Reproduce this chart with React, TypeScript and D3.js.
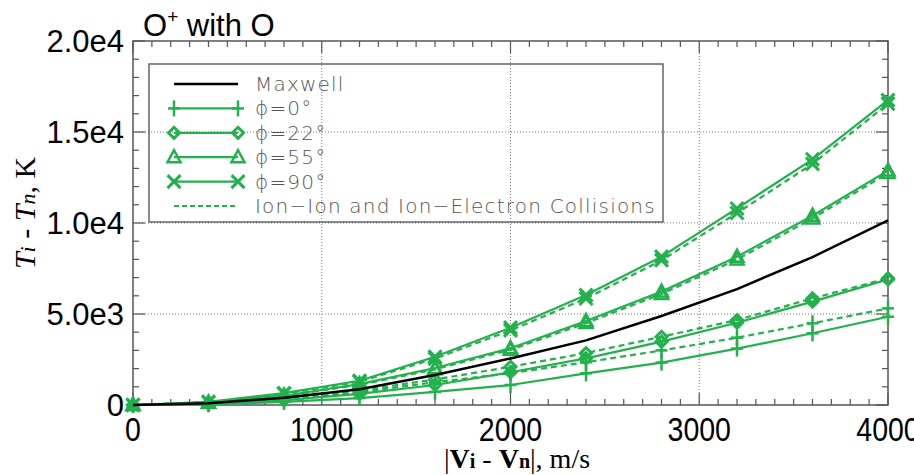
import React from "react";
import * as d3 from "d3";

const speeds = [0, 400, 800, 1200, 1600, 2000, 2400, 2800, 3200, 3600, 4000];
const maxwell = [0, 100, 400, 870, 1650, 2560, 3550, 4890, 6370, 8130, 10150];
const phi0 = [0, 40, 170, 380, 720, 1100, 1740, 2330, 3100, 3940, 4850];
const phi0Coll = [0, 80, 300, 700, 1250, 1750, 2350, 3000, 3700, 4490, 5310];
const phi22 = [0, 70, 270, 610, 1100, 1800, 2560, 3480, 4520, 5680, 6900];
const phi22Coll = [0, 90, 360, 800, 1400, 2100, 2850, 3750, 4670, 5860, 6960];
const phi55 = [0, 130, 510, 1150, 2030, 3120, 4620, 6230, 8150, 10400, 12880];
const phi55Coll = [0, 125, 490, 1110, 1960, 3030, 4500, 6100, 8000, 10250, 12750];
const phi90 = [0, 170, 650, 1330, 2650, 4250, 6040, 8150, 10800, 13500, 16750];
const phi90Coll = [0, 160, 620, 1280, 2550, 4100, 5850, 7950, 10550, 13250, 16550];

const xTicks = [0, 1000, 2000, 3000, 4000];
const yTicks = [0, 5000, 10000, 15000, 20000];
const yTickLabels = ["0", "5.0e3", "1.0e4", "1.5e4", "2.0e4"];
const legendLabels = ["Maxwell", "\u03D5=0\u00B0", "\u03D5=22\u00B0", "\u03D5=55\u00B0", "\u03D5=90\u00B0", "Ion\u2212Ion and Ion\u2212Electron Collisions"];

const GREEN = "#22b14c";
const AXIS = "#555";

type Sym = "plus" | "diamond" | "triangle" | "x";

function Marker({ sym, x, y }: { sym: Sym; x: number; y: number }) {
  const sw = 2.5;
  if (sym === "plus") {
    return (
      <g stroke={GREEN} strokeWidth={sw} fill="none">
        <line x1={x - 6} x2={x + 6} y1={y} y2={y} />
        <line x1={x} x2={x} y1={y - 8} y2={y + 8} />
      </g>
    );
  }
  if (sym === "diamond") {
    return (
      <path d={`M${x - 5.5},${y} L${x},${y - 5.5} L${x + 5.5},${y} L${x},${y + 5.5} Z`} stroke={GREEN} strokeWidth={3} fill="none" />
    );
  }
  if (sym === "triangle") {
    return <path d={`M${x - 6.5},${y + 5} L${x + 6.5},${y + 5} L${x},${y - 7} Z`} stroke={GREEN} strokeWidth={sw} fill="none" />;
  }
  return (
    <g stroke={GREEN} strokeWidth={3} fill="none">
      <line x1={x - 6.5} x2={x + 6.5} y1={y - 6.5} y2={y + 6.5} />
      <line x1={x - 6.5} x2={x + 6.5} y1={y + 6.5} y2={y - 6.5} />
    </g>
  );
}

export default function App() {
  const W = 914, H = 475;
  const left = 133, right = 888, top = 41, bottom = 405;
  const x = d3.scaleLinear().domain([0, 4000]).range([left, right]);
  const y = d3.scaleLinear().domain([0, 20000]).range([bottom, top]);
  const line = d3.line<[number, number]>().x((d) => x(d[0])).y((d) => y(d[1]));

  const series: { vals: number[]; sym: Sym; dashed: boolean }[] = [
    { vals: phi0Coll, sym: "plus", dashed: true },
    { vals: phi22Coll, sym: "diamond", dashed: true },
    { vals: phi55Coll, sym: "triangle", dashed: true },
    { vals: phi90Coll, sym: "x", dashed: true },
    { vals: phi0, sym: "plus", dashed: false },
    { vals: phi22, sym: "diamond", dashed: false },
    { vals: phi55, sym: "triangle", dashed: false },
    { vals: phi90, sym: "x", dashed: false },
  ];

  const xMinor = d3.range(0, 4001, 100);
  const yMinor = d3.range(0, 20001, 1000);

  const legX1 = 174, legX2 = 238, legTextX = 255, legY0 = 84, legStep = 24.4;
  const legSyms: (Sym | null)[] = [null, "plus", "diamond", "triangle", "x", null];

  return (
    <svg width={W} height={H} style={{ display: "block", position: "absolute", left: 0, top: 0 }}>
      <rect x={0} y={0} width={W} height={H} fill="#fff" />
      {/* grid */}
      <g stroke="#777" strokeWidth={1} strokeDasharray="1,2">
        {xTicks.slice(1, -1).map((t) => (
          <line key={"gx" + t} x1={x(t)} x2={x(t)} y1={top} y2={bottom} />
        ))}
        {yTicks.slice(1, -1).map((t) => (
          <line key={"gy" + t} x1={left} x2={right} y1={y(t)} y2={y(t)} />
        ))}
      </g>
      {/* ticks */}
      <g stroke={AXIS} strokeWidth={1.2}>
        {xMinor.map((t) => {
          const len = t % 1000 === 0 ? 12 : 6;
          return (
            <g key={"tx" + t}>
              <line x1={x(t)} x2={x(t)} y1={bottom} y2={bottom - len} />
              <line x1={x(t)} x2={x(t)} y1={top} y2={top + len} />
            </g>
          );
        })}
        {yMinor.map((t) => {
          const len = t % 5000 === 0 ? 12 : 6;
          return (
            <g key={"ty" + t}>
              <line x1={left} x2={left + len} y1={y(t)} y2={y(t)} />
              <line x1={right} x2={right - len} y1={y(t)} y2={y(t)} />
            </g>
          );
        })}
      </g>
      <rect x={left} y={top} width={right - left} height={bottom - top} fill="none" stroke={AXIS} strokeWidth={1.5} />

      {/* data */}
      {series.map((s, i) => {
        const pts = speeds.map((v, j) => [v, s.vals[j]] as [number, number]);
        return (
          <g key={"s" + i}>
            <path d={line(pts) || ""} fill="none" stroke={GREEN} strokeWidth={2.2} strokeDasharray={s.dashed ? "6,4" : undefined} />
            {pts.map((p, j) => (
              <Marker key={j} sym={s.sym} x={x(p[0])} y={y(p[1])} />
            ))}
          </g>
        );
      })}
      <path d={line(speeds.map((v, j) => [v, maxwell[j]] as [number, number])) || ""} fill="none" stroke="#000" strokeWidth={2.5} />

      {/* legend */}
      <rect x={149} y={64} width={514} height={158} fill="none" stroke="#666" strokeWidth={1.5} />
      {legendLabels.map((lab, i) => {
        const cy = legY0 + i * legStep;
        const sym = legSyms[i];
        return (
          <g key={"l" + i}>
            {i === 0 && <line x1={legX1} x2={legX2} y1={cy} y2={cy} stroke="#000" strokeWidth={2.5} />}
            {sym && <line x1={legX1} x2={legX2} y1={cy} y2={cy} stroke={GREEN} strokeWidth={2.2} />}
            {sym && <Marker sym={sym} x={legX1} y={cy} />}
            {sym && <Marker sym={sym} x={legX2} y={cy} />}
            {i === 5 && <line x1={legX1} x2={legX2} y1={cy} y2={cy} stroke={GREEN} strokeWidth={2} strokeDasharray="5,3" />}
            <text x={legTextX} y={cy + 7} fontFamily="DejaVu Sans" fontWeight={200} fontSize={20} fill="#555" letterSpacing={1.2}>
              {lab}
            </text>
          </g>
        );
      })}

      {/* tick labels */}
      {xTicks.map((t) => (
        <text key={"xl" + t} transform={`translate(${x(t)},${441}) scale(0.95,1.1)`} textAnchor="middle" fontFamily="Liberation Sans, Arial" fontSize={30} fill="#000">
          {t}
        </text>
      ))}
      {yTicks.map((t, i) => (
        <text key={"yl" + t} x={124} y={y(t) + 11} textAnchor="end" fontFamily="Liberation Sans, Arial" fontSize={31} fill="#000">
          {yTickLabels[i]}
        </text>
      ))}

      {/* title */}
      <text x={143} y={36} fontFamily="Liberation Sans, Arial" fontSize={31} fill="#000">
        O<tspan fontSize={19} dy={-13}>+</tspan>
        <tspan dy={13}> with O</tspan>
      </text>

      {/* y axis title */}
      <text transform={`translate(35,${213}) rotate(-90)`} textAnchor="middle" fontFamily="Liberation Serif, Times New Roman, serif" fontSize={30} fill="#000">
        <tspan fontStyle="italic">T</tspan>
        <tspan fontStyle="italic" fontSize={22}>i</tspan>
        <tspan> - </tspan>
        <tspan fontStyle="italic">T</tspan>
        <tspan fontStyle="italic" fontSize={22}>n</tspan>
        <tspan>, K</tspan>
      </text>

      {/* x axis title */}
      <text x={517} y={468} textAnchor="middle" fontFamily="Liberation Serif, Times New Roman, serif" fontSize={28} fill="#000">
        <tspan>|</tspan>
        <tspan fontWeight="bold">V</tspan>
        <tspan fontWeight="bold" fontSize={20}>i</tspan>
        <tspan> - </tspan>
        <tspan fontWeight="bold">V</tspan>
        <tspan fontWeight="bold" fontSize={20}>n</tspan>
        <tspan>|, m/s</tspan>
      </text>
    </svg>
  );
}
